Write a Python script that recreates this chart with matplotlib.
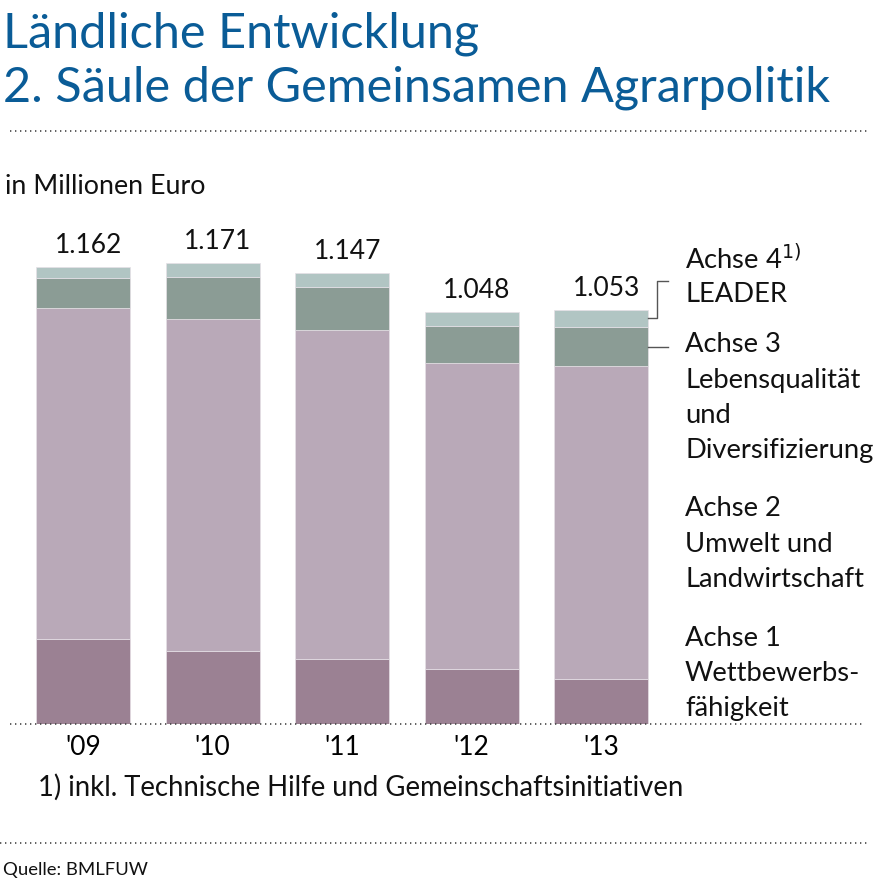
import numpy as np
import matplotlib.pyplot as plt
from matplotlib.lines import Line2D

plt.rcParams['font.family'] = ['Lato', 'DejaVu Sans']

# Data (Mio. Euro)
years = ["'09", "'10", "'11", "'12", "'13"]
achse1 = np.array([216, 186, 165, 139, 114])
achse2 = np.array([842, 844, 836, 778, 796])
achse3 = np.array([74, 105, 110, 94, 98])
achse4 = np.array([30, 36, 36, 37, 45])
totals = ["1.162", "1.171", "1.147", "1.048", "1.053"]

colors = ['#9b8193', '#b9a9b8', '#8b9c95', '#b1c5c3']
W, H = 875, 888

fig = plt.figure(figsize=(W / 100, H / 100), dpi=100)
# axes placed so that baseline sits at y=724 px, bar centres at 83 + 129.5*i px
ax_l, ax_r = 18, 665
ax = fig.add_axes([ax_l / W, (H - 724) / H, (ax_r - ax_l) / W, 1300 * 0.3936 / H])
ax.set_xlim((ax_l - 83) / 129.5, (ax_r - 83) / 129.5)
ax.set_ylim(0, 1300)

x = np.arange(len(years))
bw = 94 / 129.5
bottom = np.zeros(len(years))
for vals, c in zip([achse1, achse2, achse3, achse4], colors):
    ax.bar(x, vals, bw, bottom=bottom, color=c, edgecolor='#e6e0e6', linewidth=0.5)
    bottom = bottom + vals

for xi, tot, lab in zip(x, bottom, totals):
    ax.text(xi + 0.04, tot + 22, lab, ha='center', va='bottom', fontsize=19, color='#111111')

ax.set_xticks(x)
ax.set_xticklabels(years, fontsize=19)
ax.tick_params(axis='x', length=0, pad=8)
ax.set_yticks([])
for s in ax.spines.values():
    s.set_visible(False)

# connector lines to legend labels (last bar)
right = x[-1] + bw / 2
c4 = achse1[-1] + achse2[-1] + achse3[-1] + achse4[-1] / 2
c3 = achse1[-1] + achse2[-1] + achse3[-1] / 2
dx1 = 9 / 129.5
dx2 = 20 / 129.5
top4 = c4 + 37 / 0.3936
ax.plot([right, right + dx1, right + dx1, right + dx2], [c4, c4, top4, top4],
        color='#555555', lw=1, clip_on=False)
ax.plot([right, right + dx2], [c3, c3], color='#555555', lw=1, clip_on=False)

# legend text
def ftext(px, py, s, **kw):
    fig.text(px / W, 1 - py / H, s, **kw)

lx = 685
leg_kw = dict(fontsize=19.7, va='center', ha='left', color='#111111')
ftext(lx, 259, r'Achse 4$^{1)}$', **leg_kw)
ftext(lx, 295, 'LEADER', **leg_kw)
for i, s in enumerate(['Achse 3', 'Lebensqualität', 'und', 'Diversifizierung']):
    ftext(lx, 345 + 35.3 * i, s, **leg_kw)
for i, s in enumerate(['Achse 2', 'Umwelt und', 'Landwirtschaft']):
    ftext(lx, 509 + 35.3 * i, s, **leg_kw)
for i, s in enumerate(['Achse 1', 'Wettbewerbs-', 'fähigkeit']):
    ftext(lx, 638 + 35.3 * i, s, **leg_kw)

# titles and notes
blue = '#0a5c97'
ftext(3, 34, 'Ländliche Entwicklung', fontsize=35, color=blue, va='center')
ftext(3, 88, '2. Säule der Gemeinsamen Agrarpolitik', fontsize=35, color=blue, va='center')
ftext(5, 187, 'in Millionen Euro', fontsize=19.3, va='center', color='#111111')
ftext(38, 787, '1) inkl. Technische Hilfe und Gemeinschaftsinitiativen', fontsize=19.8,
      va='center', color='#111111')
ftext(3, 870, 'Quelle: BMLFUW', fontsize=13.3, va='center', color='#111111')

# dotted rules
for y0, x0, x1 in [(131, 10, 870), (724, 10, 862), (843, 0, 870)]:
    fig.add_artist(Line2D([x0 / W, x1 / W], [1 - y0 / H, 1 - y0 / H], color='#444444',
                          lw=1.2, linestyle=(0, (0.8, 2.2)), transform=fig.transFigure))

fig.savefig('out.png', dpi=100)
